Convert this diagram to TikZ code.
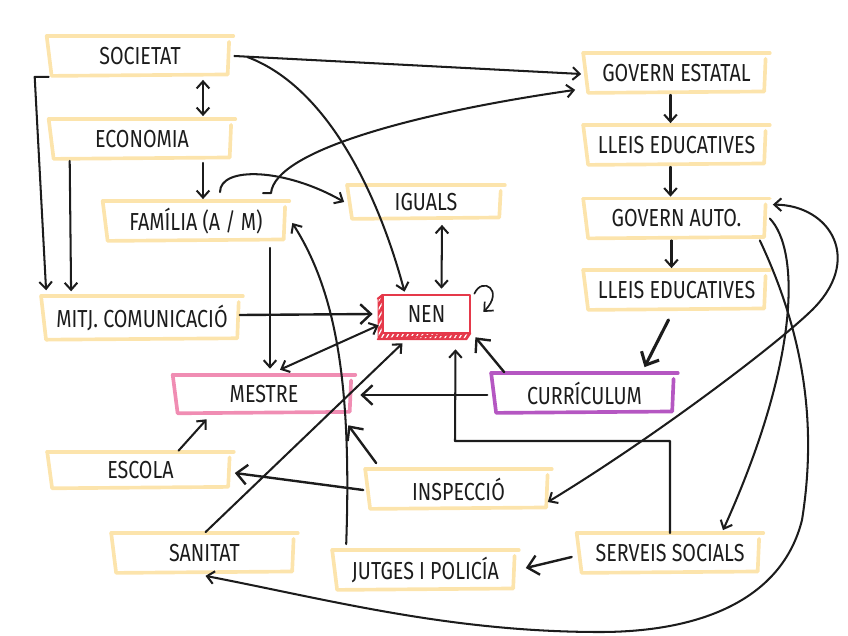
\documentclass[tikz,border=0pt]{standalone}
\usepackage{fontspec}
\setmainfont{Fira Sans}[FakeStretch=0.8]
\usetikzlibrary{arrows.meta,calc,patterns.meta}
\definecolor{paper}{HTML}{FCE4AC}
\definecolor{rosa}{HTML}{F08DB3}
\definecolor{lila}{HTML}{B557C2}
\definecolor{vermell}{HTML}{E5394A}
\definecolor{tinta}{HTML}{1C1C1C}
\begin{document}
\begin{tikzpicture}[x=0.025cm,y=-0.025cm,line cap=round,line join=round,
  caixa/.style={inner sep=0pt,minimum width=4.65cm,minimum height=0.98cm,text=tinta,font=\fontsize{17.5}{19}\selectfont},
  fletxa/.style={tinta,line width=1.45pt,-{Straight Barb[length=5pt,width=9pt]}},
  doble/.style={tinta,line width=1.45pt,{Straight Barb[length=5pt,width=9pt]}-{Straight Barb[length=5pt,width=9pt]}},
  gran/.style={tinta,line width=1.7pt,-{Straight Barb[length=7.5pt,width=14pt]}}]
  \useasboundingbox (0,0) rectangle (848,636);
  \node[caixa] (soc) at (140,56) {SOCIETAT};
  \node[caixa] (eco) at (142,139) {ECONOMIA};
  \node[caixa] (fam) at (196,221) {FAMÍLIA (A / M)};
  \node[caixa,minimum width=3.93cm,minimum height=0.83cm] (igu) at (426,202) {IGUALS};
  \node[caixa,minimum width=5.03cm,minimum height=1.07cm] (mitj) at (142,318) {MITJ. COMUNICACIÓ};
  \node[caixa,minimum width=2.18cm,minimum height=0.95cm] (nen) at (426.5,314) {NEN};
  \node[caixa,minimum width=4.55cm,minimum height=0.95cm] (mes) at (264,394) {MESTRE};
  \node[caixa] (cur) at (584.5,393) {CURRÍCULUM};
  \node[caixa,minimum height=0.9cm] (esc) at (140.5,470) {ESCOLA};
  \node[caixa] (ins) at (458.5,489) {INSPECCIÓ};
  \node[caixa] (san) at (204.5,553) {SANITAT};
  \node[caixa] (jut) at (425.5,570) {JUTGES I POLICÍA};
  \node[caixa] (ser) at (670,553) {SERVEIS SOCIALS};
  \node[caixa] (ges) at (676.5,73) {GOVERN ESTATAL};
  \node[caixa] (lle1) at (676.5,145) {LLEIS EDUCATIVES};
  \node[caixa] (gau) at (676.5,218.5) {GOVERN AUTO.};
  \node[caixa] (lle2) at (676.5,290) {LLEIS EDUCATIVES};
  \foreach \b/\c in {soc/paper,eco/paper,fam/paper,igu/paper,mitj/paper,esc/paper,ins/paper,san/paper,jut/paper,ser/paper,ges/paper,lle1/paper,gau/paper,lle2/paper,mes/rosa,cur/lila} {
    \draw[\c,line width=2.6pt] (\b.north west) -- (\b.north east);
    \draw[\c,line width=2.6pt] (\b.north west) -- ([xshift=3.5pt]\b.south west) -- ([xshift=-4pt,yshift=1pt]\b.south east) -- ([xshift=-3pt,yshift=-4pt]\b.north east);
  }
  \fill[vermell] ($(nen.north west)+(-5,4)$) -- (nen.north west) -- (nen.south west) -- (nen.south east) -- ($(nen.south east)+(-4,6)$) -- ($(nen.south west)+(-5,6)$) -- cycle;
  \fill[pattern={Lines[angle=60,distance=3pt,line width=0.9pt]},pattern color=white] ($(nen.north west)+(-4,5)$) -- ($(nen.north west)+(-1,3)$) -- ($(nen.south west)+(-1,-1)$) -- ($(nen.south east)+(-1,-1)$) -- ($(nen.south east)+(-4,5)$) -- ($(nen.south west)+(-4,5)$) -- cycle;
  \draw[vermell,line width=1.3pt] (nen.north west) rectangle (nen.south east);
  \draw[vermell,line width=1.3pt] ($(nen.north west)+(-5,4)$) -- (nen.north west) (nen.south east) -- ($(nen.south east)+(-4,6)$) -- ($(nen.south west)+(-5,6)$) -- cycle;
  \draw[doble] ($(soc.south)+(63,4)$) -- ($(eco.north)+(61,-3)$);
  \draw[fletxa] ($(eco.south)+(61,4)$) -- ($(fam.north)+(7,-2)$);
  \draw[fletxa] ($(soc.east)+(1,0)$) -- ($(ges.west)+(-2,1)$);
  \draw[fletxa] ($(soc.east)+(14,1)$) .. controls (330,88) and (380,200) .. ($(nen.north)+(-22,-3)$);
  \draw[fletxa] ($(fam.north)+(67,-8)$) -- ($(fam.north)+(75,-8)$) .. controls (275,150) and (420,112) .. ($(ges.south west)+(-8,-3)$);
  \draw[fletxa] ($(fam.north)+(24,-9)$) .. controls (220,166) and (285,168) .. ($(igu.west)+(-3,0)$);
  \draw[fletxa] ($(soc.south west)+(2,1)$) -- ($(soc.south west)+(-12,1)$) -- ($(mitj.north west)+(5,-6)$);
  \draw[fletxa] ($(eco.south west)+(21,2)$) -- ($(mitj.north west)+(30,-5)$);
  \draw[doble] ($(igu.south)+(16,6)$) -- ($(nen.north)+(15,-6)$);
  \draw[gran] ($(mitj.east)+(-3,-3)$) -- ($(nen.west)+(-10,0)$);
  \draw[fletxa] ($(fam.south)+(74,7)$) -- ($(mes.north)+(6,-6)$);
  \draw[doble] ($(mes.north)+(16,-5)$) -- ($(nen.south west)+(-4,-8)$);
  \draw[gran] ($(cur.west)+(-4,2)$) -- ($(mes.east)+(5,1)$);
  \draw[gran] ($(cur.north west)+(13,-1)$) -- ($(nen.south east)+(5,4)$);
  \draw[gran,line width=2.2pt] ($(lle2.south)+(-8,10)$) -- ($(cur.north)+(60,-6)$);
  \draw[fletxa] ($(ges.south)+(-6,2)$) -- ($(lle1.north)+(-6,-2)$);
  \draw[fletxa] ($(lle1.south)+(-6,2)$) -- ($(gau.north)+(-6,-2)$);
  \draw[fletxa] ($(gau.south)+(-5,2)$) -- ($(lle2.north)+(-5,-2)$);
  \coordinate (colze) at (455,441);
  \draw[fletxa] (ser.north) |- (colze) -- ($(nen.south)+(29,16)$);
  \draw[fletxa] ($(esc.north)+(38,-1)$) -- ($(mes.south west)+(34,6)$);
  \draw[gran] ($(ins.west)+(-2,1)$) -- ($(esc.east)+(1,3)$);
  \draw[gran] ($(ins.north west)+(11,-6)$) -- ($(mes.south east)+(-7,12)$);
  \draw[fletxa] ($(san.north)+(1,-1)$) -- ($(nen.south)+(-24,10)$);
  \draw[fletxa] ($(jut.north west)+(14,-6)$) .. controls (352,380) and (335,290) .. ($(fam.east)+(3,2)$);
  \draw[gran] ($(ser.west)+(-5,4)$) -- ($(jut.east)+(7,-2)$);
  \draw[doble] ($(gau.north east)+(3,6)$) .. controls (830,205) and (865,260) .. (810,312) .. controls (770,350) and (650,440) .. ($(ins.east)+(-4,13)$);
  \draw[fletxa] (gau.east) .. controls (800,250) and (800,360) .. ($(ser.north)+(53,-3)$);
  \draw[fletxa] ($(gau.south east)+(-10,2)$) .. controls (802,330) and (818,420) .. (802,520) .. controls (782,600) and (700,632) .. (600,632) .. controls (450,632) and (330,600) .. ($(san.south)+(1,3)$);
  \draw[fletxa,line width=1.2pt] ($(nen.north east)+(4,-1)$) .. controls (482,276) and (505,290) .. ($(nen.east)+(13,-2)$);
\end{tikzpicture}
\end{document}
